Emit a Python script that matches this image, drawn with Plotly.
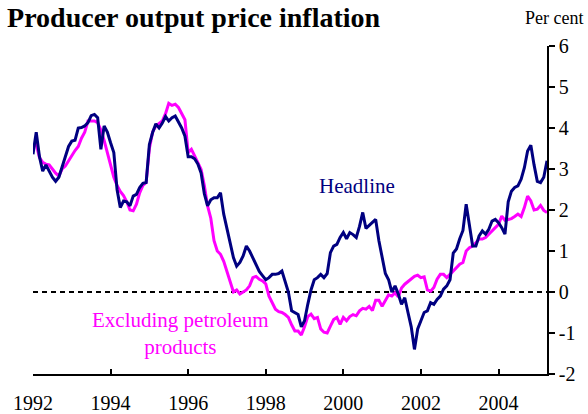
import plotly.graph_objects as go

# Monthly data, January 1992 onwards (per cent, year-on-year)
start_year = 1992
headline = [
    3.36, 3.90, 3.30, 2.95, 3.10, 2.95, 2.80, 2.70, 2.80, 3.05, 3.30, 3.55,   # 1992
    3.68, 3.70, 4.00, 4.01, 4.05, 4.13, 4.30, 4.33, 4.25, 3.48, 4.05, 3.90,   # 1993
    3.64, 3.40, 2.50, 2.06, 2.22, 2.20, 2.10, 2.34, 2.38, 2.55, 2.65, 2.67,   # 1994
    3.60, 3.89, 4.10, 4.00, 4.12, 4.28, 4.17, 4.25, 4.29, 4.15, 4.00, 3.80,   # 1995
    3.30, 3.30, 3.25, 3.12, 2.90, 2.40, 2.10, 2.25, 2.30, 2.30, 2.42, 1.90,   # 1996
    1.55, 1.20, 0.84, 0.63, 0.72, 0.88, 1.12, 1.00, 0.84, 0.70, 0.50, 0.40,   # 1997
    0.30, 0.35, 0.43, 0.43, 0.45, 0.51, 0.23, 0.00, -0.46, -0.50, -0.55, -0.85,  # 1998
    -0.70, -0.30, 0.05, 0.30, 0.35, 0.43, 0.35, 0.45, 0.96, 1.12, 1.16, 1.33,  # 1999
    1.45, 1.30, 1.45, 1.40, 1.33, 1.60, 1.94, 1.55, 1.63, 1.70, 1.77, 1.25,   # 2000
    0.84, 0.45, 0.30, 0.00, 0.15, -0.05, -0.30, -0.14, -0.50, -0.85, -1.40, -0.90,  # 2001
    -0.70, -0.50, -0.46, -0.26, -0.30, -0.18, -0.10, 0.07, 0.15, 0.30, 0.95, 1.05,  # 2002
    1.30, 1.50, 2.14, 1.65, 1.12, 1.12, 1.37, 1.49, 1.41, 1.53, 1.73, 1.77,   # 2003
    1.69, 1.57, 1.41, 2.20, 2.46, 2.55, 2.59, 2.75, 3.03, 3.44, 3.58, 3.10,   # 2004
    2.70, 2.67, 2.80, 3.20,                                                   # 2005
]
excl_petroleum = [
    3.56, 3.60, 3.28, 3.16, 3.12, 3.10, 3.00, 2.90, 2.83, 3.00, 3.07, 3.20,   # 1992
    3.30, 3.45, 3.55, 3.75, 3.90, 4.17, 4.17, 4.17, 4.13, 3.95, 3.70, 3.40,   # 1993
    3.10, 2.80, 2.60, 2.45, 2.35, 2.20, 2.00, 1.98, 2.14, 2.42, 2.60, 2.67,   # 1994
    3.50, 3.90, 4.05, 4.10, 4.17, 4.35, 4.60, 4.55, 4.58, 4.50, 4.33, 4.20,   # 1995
    3.40, 3.48, 3.32, 3.16, 2.99, 2.60, 2.10, 1.80, 1.25, 1.00, 0.92, 0.75,   # 1996
    0.50, 0.20, 0.00, 0.05, -0.05, 0.00, 0.05, 0.15, 0.35, 0.38, 0.31, 0.27,  # 1997
    0.20, -0.10, -0.25, -0.42, -0.48, -0.50, -0.55, -0.62, -0.80, -0.95, -0.95, -1.05,  # 1998
    -0.85, -0.60, -0.54, -0.65, -0.62, -0.90, -0.98, -1.00, -0.83, -0.67, -0.62, -0.79,  # 1999
    -0.62, -0.70, -0.60, -0.55, -0.58, -0.46, -0.40, -0.42, -0.35, -0.45, -0.20, -0.20,  # 2000
    -0.35, -0.20, -0.07, -0.10, -0.02, -0.12, 0.10, 0.19, 0.25, 0.32, 0.38, 0.41,  # 2001
    0.35, 0.37, 0.05, 0.02, 0.11, 0.31, 0.43, 0.43, 0.35, 0.43, 0.51, 0.60,   # 2002
    0.68, 0.72, 1.00, 1.08, 1.12, 1.20, 1.29, 1.29, 1.33, 1.41, 1.49, 1.57,   # 2003
    1.65, 1.85, 1.75, 1.77, 1.79, 1.84, 1.90, 1.84, 2.06, 2.34, 2.22, 2.00,   # 2004
    2.02, 2.11, 1.99, 1.94,                                                   # 2005
]
x_tick_years = [1992, 1994, 1996, 1998, 2000, 2002, 2004]
y_tick_values = [-2, -1, 0, 1, 2, 3, 4, 5, 6]
y_tick_labels = ["-2", "-1", "0", "1", "2", "3", "4", "5", "6"]

x_h = [start_year + i / 12 for i in range(len(headline))]
x_e = [start_year + i / 12 for i in range(len(excl_petroleum))]

NAVY = "#000080"
MAGENTA = "#FF00FF"
FONT = "Liberation Serif"
X_MAX = 2005.25

fig = go.Figure()
fig.add_trace(go.Scatter(x=x_e, y=excl_petroleum, mode="lines",
                         line=dict(color=MAGENTA, width=3), name="Excluding petroleum products",
                         hoverinfo="skip"))
fig.add_trace(go.Scatter(x=x_h, y=headline, mode="lines",
                         line=dict(color=NAVY, width=3), name="Headline",
                         hoverinfo="skip"))

fig.add_shape(type="line", xref="x", yref="y", x0=start_year, x1=X_MAX, y0=0, y1=0,
              line=dict(color="black", width=2, dash="5px,4px"), layer="below")

fig.add_annotation(x=2000.36, y=2.58, xref="x", yref="y", text="Headline",
                   showarrow=False, font=dict(family=FONT, size=21, color=NAVY))
fig.add_annotation(x=1995.8, y=-1.02, xref="x", yref="y",
                   text="Excluding petroleum<br>products",
                   showarrow=False, font=dict(family=FONT, size=21, color=MAGENTA))
fig.add_annotation(x=1.074, y=1.085, xref="paper", yref="paper", text="Per cent",
                   xanchor="right", yanchor="middle",
                   showarrow=False, font=dict(family=FONT, size=18, color="black"))

fig.update_layout(
    template="none",
    width=588, height=414,
    margin=dict(l=33, r=41, t=46, b=40, autoexpand=False),
    paper_bgcolor="white", plot_bgcolor="white",
    showlegend=False,
    title=dict(text="<b>Producer output price inflation</b>", xref="container", yref="container",
               x=0.012, xanchor="left", y=0.983, yanchor="top",
               font=dict(family=FONT, size=28, color="black")),
    font=dict(family=FONT, size=20, color="black"),
)
fig.update_xaxes(range=[start_year, X_MAX], tickvals=x_tick_years,
                 ticktext=[str(v) for v in x_tick_years], automargin=False,
                 showline=True, linecolor="black", linewidth=1.5,
                 ticks="inside", ticklen=5, tickcolor="black", tickwidth=1.5,
                 showgrid=False, zeroline=False, ticklabelstandoff=10,
                 tickfont=dict(family=FONT, size=20, color="black"))
fig.update_yaxes(range=[-2, 6], side="right", tickvals=y_tick_values, ticktext=y_tick_labels,
                 automargin=False,
                 showline=True, linecolor="black", linewidth=1.5,
                 ticks="outside", ticklen=6, tickcolor="black", tickwidth=1.5,
                 showgrid=False, zeroline=False,
                 tickfont=dict(family=FONT, size=20, color="black"))

fig.write_html("out.html", config={"displayModeBar": False},
               post_script="document.body.style.margin='0';")
